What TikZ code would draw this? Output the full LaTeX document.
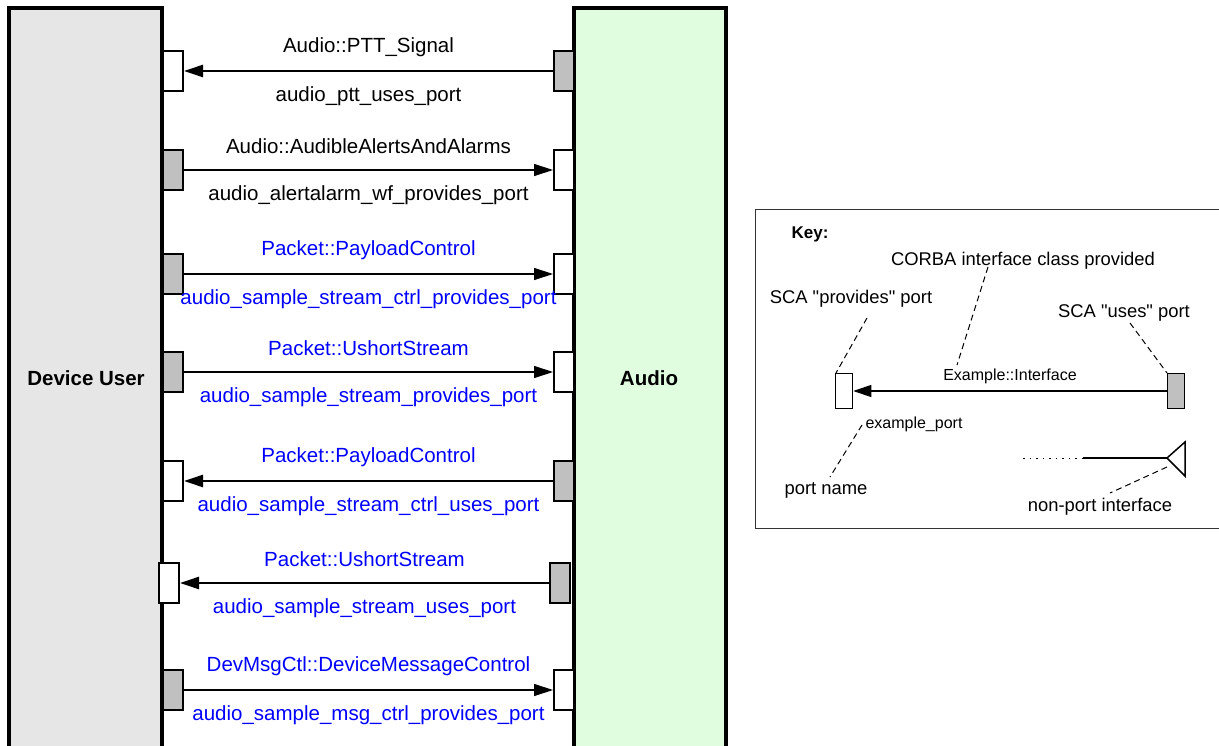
\documentclass[tikz,border=0pt]{standalone}
\usepackage{fontspec}
\setmainfont{Liberation Sans}
\usetikzlibrary{arrows.meta}
\definecolor{dugray}{HTML}{E6E6E6}
\definecolor{augreen}{HTML}{E0FDE0}
\definecolor{portgray}{HTML}{C0C0C0}
\definecolor{lblue}{HTML}{0000FF}
\begin{document}
\begin{tikzpicture}[x=1pt,y=-1pt,
  comp/.style={draw=black, line width=4pt},
  complabel/.style={font=\fontsize{20.5}{24}\bfseries\selectfont, inner sep=0pt},
  provport/.style={draw=black, line width=2pt, fill=white, minimum width=20pt, minimum height=40pt, inner sep=0pt},
  usesport/.style={provport, fill=portgray},
  conthick/.style={line width=2.5pt, -{Triangle[length=19pt,width=12pt]}},
  conthin/.style={line width=1.3pt, -{Triangle[length=19pt,width=12pt]}},
  lbl/.style={font=\fontsize{20.5}{24}\selectfont, inner sep=0pt},
  lblb/.style={lbl, text=lblue},
  up/.style={midway, yshift=24pt},
  dn/.style={midway, yshift=-25.5pt},
  keytxt/.style={font=\fontsize{18.4}{22}\selectfont, inner sep=0pt},
  keysmall/.style={font=\fontsize{16}{19}\selectfont, inner sep=0pt},
  leader/.style={line width=1pt, dash pattern=on 6pt off 4pt},
  kprov/.style={draw=black, line width=1.5pt, fill=white, minimum width=17pt, minimum height=35pt, inner sep=0pt},
  kuses/.style={kprov, fill=portgray}]
\useasboundingbox (0,0) rectangle (1219,746);
\clip (0,0) rectangle (1219,746);
% components
\draw[comp, fill=dugray] (9,8) rectangle (162,780);
\draw[comp, fill=augreen] (574,8) rectangle (726,780);
\node[complabel] (du) at (86,378) {Device User};
\node[complabel] (au) at (649,378) {Audio};
% row 1
\node[provport] (l1) at (173,71) {};
\node[usesport] (r1) at (564,71) {};
\draw[conthick] (r1.west) -- node[lbl,up]{Audio::PTT\_Signal} node[lbl,dn]{audio\_ptt\_uses\_port} (l1.east);
% row 2
\node[usesport] (l2) at (173,170) {};
\node[provport] (r2) at (564,170) {};
\draw[conthin] (l2.east) -- node[lbl,up]{Audio::AudibleAlertsAndAlarms} node[lbl,dn]{audio\_alertalarm\_wf\_provides\_port} (r2.west);
% row 3
\node[usesport] (l3) at (173,274) {};
\node[provport] (r3) at (564,274) {};
\draw[conthin] (l3.east) -- node[lblb,up]{Packet::PayloadControl} node[lblb,dn]{audio\_sample\_stream\_ctrl\_provides\_port} (r3.west);
% row 4
\node[usesport] (l4) at (173,372) {};
\node[provport] (r4) at (564,372) {};
\draw[conthin] (l4.east) -- node[lblb,up]{Packet::UshortStream} node[lblb,dn]{audio\_sample\_stream\_provides\_port} (r4.west);
% row 5
\node[provport] (l5) at (173,481) {};
\node[usesport] (r5) at (564,481) {};
\draw[conthick] (r5.west) -- node[lblb,up]{Packet::PayloadControl} node[lblb,dn]{audio\_sample\_stream\_ctrl\_uses\_port} (l5.east);
% row 6
\node[provport] (l6) at (169,583) {};
\node[usesport] (r6) at (560,583) {};
\draw[conthick] (r6.west) -- node[lblb,up]{Packet::UshortStream} node[lblb,dn]{audio\_sample\_stream\_uses\_port} (l6.east);
% row 7
\node[usesport] (l7) at (173,690) {};
\node[provport] (r7) at (564,690) {};
\draw[conthin] (l7.east) -- node[lblb,up]{DevMsgCtl::DeviceMessageControl} node[lblb,dn]{audio\_sample\_msg\_ctrl\_provides\_port} (r7.west);
% key
\draw[line width=1pt, draw=black!80] (755,210) rectangle (1230,528);
\node[keytxt, font=\fontsize{17}{20}\bfseries\selectfont] (keyt) at (810,234) {Key:};
\node[keytxt] (corba) at (1023,261) {CORBA interface class provided};
\node[keytxt] (scap) at (851,299) {SCA \textquotedbl provides\textquotedbl{} port};
\node[keytxt] (scau) at (1124,313) {SCA \textquotedbl uses\textquotedbl{} port};
\node[kprov] (kp) at (844,391) {};
\node[kuses] (ku) at (1176,391) {};
\draw[line width=1.2pt, -{Triangle[length=18pt,width=12pt]}] (ku.west) -- node[keysmall, midway, yshift=15pt]{Example::Interface} (kp.east);
\node[keysmall] (exp) at (914,424) {example\_port};
\node[keytxt] (pname) at (826,490) {port name};
\node[keytxt] (nonp) at (1100,507) {non-port interface};
\coordinate (tA) at (1167,458);
\coordinate (tB) at (1185,442);
\coordinate (tC) at (1185,476);
\coordinate (lineS) at (1083,458);
\coordinate (dotS) at (1023,458);
\draw[line width=1.5pt] (tA) -- (tB) -- (tC) -- cycle;
\draw[line width=1.2pt] (lineS) -- (tA);
\draw[line width=1pt, dash pattern=on 1.5pt off 5pt] (dotS) -- (lineS);
% leaders
\coordinate (a1) at (867,318); \coordinate (a2) at (836,373);
\coordinate (b1) at (988,267); \coordinate (b2) at (957,365);
\coordinate (c1) at (1130,323); \coordinate (c2) at (1167,373);
\coordinate (d1) at (862,425); \coordinate (d2) at (830,477);
\coordinate (e1) at (1167,467); \coordinate (e2) at (1110,493);
\draw[leader] (a1) -- (a2);
\draw[leader] (b1) -- (b2);
\draw[leader] (c1) -- (c2);
\draw[leader] (d1) -- (d2);
\draw[leader] (e1) -- (e2);
\end{tikzpicture}
\end{document}
